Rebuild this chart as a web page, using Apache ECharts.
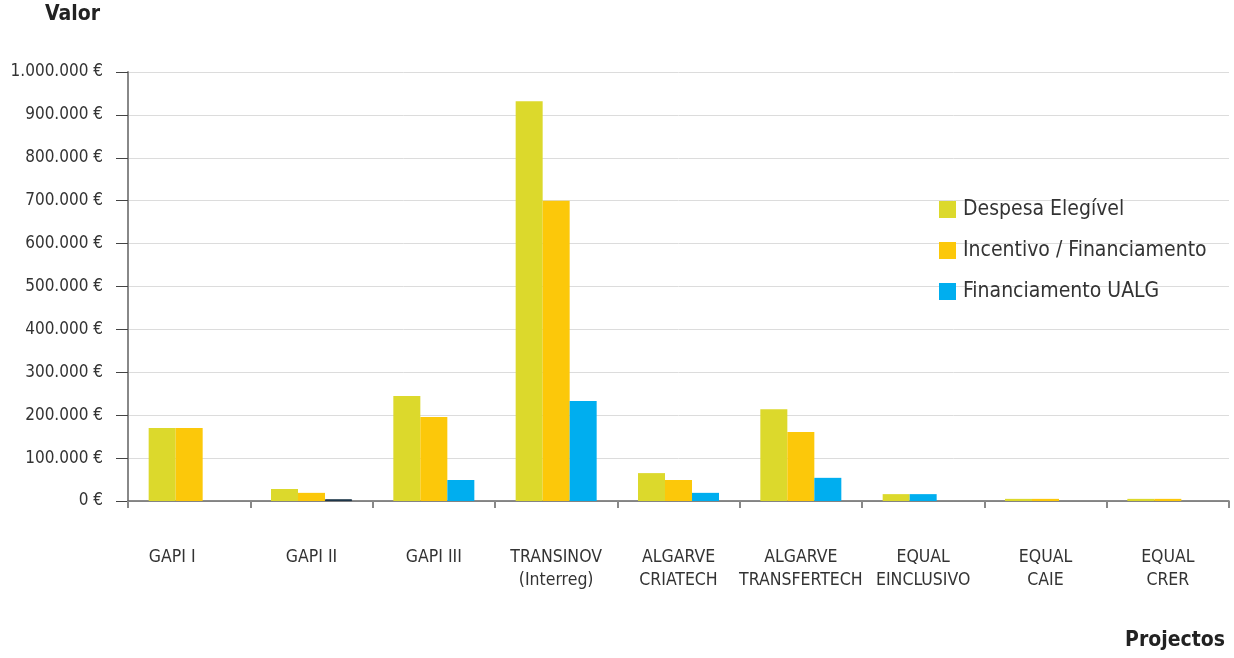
<!DOCTYPE html>
<html>
<head>
<meta charset="utf-8">
<script src="https://cdn.jsdelivr.net/npm/echarts@6/dist/echarts.min.js"></script>
<style>
html,body{margin:0;padding:0;background:#fff;}
#chart{width:1234px;height:658px;}
</style>
</head>
<body>
<div id="chart"></div>
<script>
const categories = ['GAPI I', 'GAPI II', 'GAPI III', 'TRANSINOV\n(Interreg)', 'ALGARVE\nCRIATECH', 'ALGARVE\nTRANSFERTECH', 'EQUAL\nEINCLUSIVO', 'EQUAL\nCAIE', 'EQUAL\nCRER'];
const seriesNames = ['Despesa Elegível', 'Incentivo / Financiamento', 'Financiamento UALG'];
const despesa = [170000, 28000, 245000, 932000, 65000, 214000, 16000, 5000, 5000];
const incentivo = [170000, 19000, 196000, 700000, 49000, 161000, 16000, 5000, 5000];
const ualg = [0, 4000, 49000, 233000, 19000, 54000, 0, 0, 0];
const yTicks = [0, 100000, 200000, 300000, 400000, 500000, 600000, 700000, 800000, 900000, 1000000];

const FONT = "'Liberation Sans Narrow', 'DejaVu Sans Condensed', 'Roboto', sans-serif";
const colors = ['#dcd92c', '#fcc80a', '#00aeef'];

function fmt(v) {
  return String(v).replace(/\B(?=(\d{3})+(?!\d))/g, '.') + ' €';
}

const catData = categories.map((c, i) => i === 0 ? { value: c, textStyle: { padding: [0, 34, 0, 0] } } : c);
const incData = incentivo.map((v, i) => i === 6 ? { value: v, itemStyle: { color: colors[2] } } : v);
const ualgData = ualg.map((v, i) => i === 1 ? { value: v, itemStyle: { color: '#1f6f96', borderColor: '#123', borderWidth: 0.8 } } : v);

const chart = echarts.init(document.getElementById('chart'));
chart.setOption({
  animation: false,
  color: colors,
  textStyle: { fontFamily: FONT },
  grid: { left: 128, right: 5, top: 72, bottom: 157, containLabel: false },
  graphic: [
    { type: 'text', left: 45, top: 4, style: { text: 'Valor', font: "bold 21px " + FONT, fill: '#222' } },
    { type: 'text', right: 9, top: 630, style: { text: 'Projectos', font: "bold 21px " + FONT, fill: '#222' } }
  ],
  legend: {
    orient: 'vertical',
    left: 934,
    top: 194,
    itemWidth: 17,
    itemHeight: 17,
    itemGap: 20,
    icon: 'rect',
    textStyle: { fontSize: 21, color: '#333', fontFamily: FONT, padding: [0, 0, 0, 2] },
    data: seriesNames
  },
  xAxis: {
    type: 'category',
    data: catData,
    axisLine: { lineStyle: { color: '#666', width: 1.5 } },
    axisTick: { show: true, length: 7, lineStyle: { color: '#888', width: 2 } },
    axisLabel: { margin: 45, fontSize: 17.5, lineHeight: 23, color: '#333', fontFamily: FONT, interval: 0 }
  },
  yAxis: {
    type: 'value',
    min: 0,
    max: 1000000,
    interval: 100000,
    axisLine: { show: true, lineStyle: { color: '#888', width: 2 } },
    axisTick: { show: true, length: 12, lineStyle: { color: '#444' } },
    splitLine: { lineStyle: { color: '#dcdcdc', width: 1 } },
    axisLabel: { fontSize: 17, color: '#333', margin: 25, fontFamily: FONT, formatter: v => fmt(v),
      customValues: yTicks }
  },
  series: [
    { name: seriesNames[0], type: 'bar', data: despesa, barWidth: 27, barGap: '0%' },
    { name: seriesNames[1], type: 'bar', data: incData, barWidth: 27, barGap: '0%' },
    { name: seriesNames[2], type: 'bar', data: ualgData, barWidth: 27, barGap: '0%' }
  ]
});
</script>
</body>
</html>
